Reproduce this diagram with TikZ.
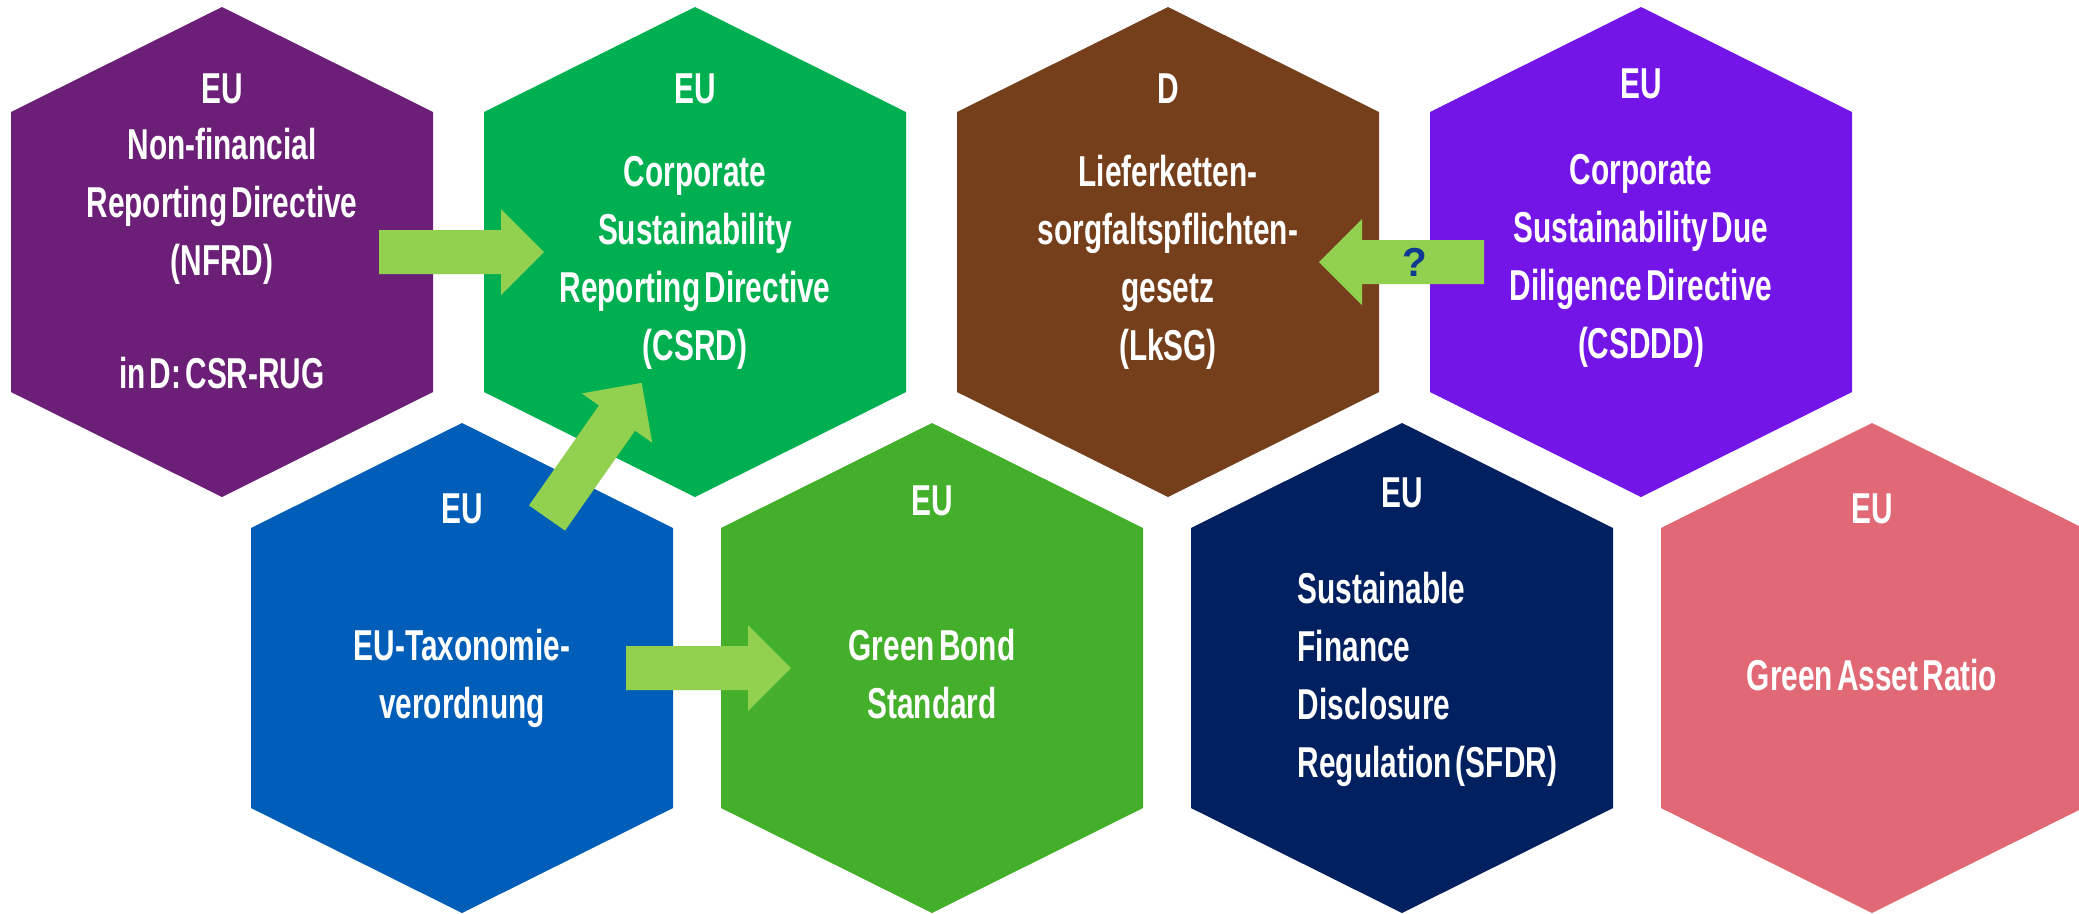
\documentclass[tikz,border=0pt]{standalone}
\usepackage{fontspec}
\setmainfont{Liberation Sans}[FakeStretch=0.69, WordSpace=0.5]
\newfontfamily\qfont{Liberation Sans}
\usepackage{tikz}
\usetikzlibrary{positioning}
\definecolor{npurple}{HTML}{6B1F76}
\definecolor{cgreen}{HTML}{00B050}
\definecolor{lbrown}{HTML}{763F1B}
\definecolor{cviolet}{HTML}{7415E8}
\definecolor{tblue}{HTML}{005EB8}
\definecolor{ggreen}{HTML}{44AF2A}
\definecolor{snavy}{HTML}{002060}
\definecolor{rpink}{HTML}{E16975}
\definecolor{agreen}{HTML}{92D050}
\definecolor{qblue}{HTML}{0E3B91}
\tikzset{
  hexeu/.style={text=white, anchor=base, inner sep=0pt, font=\fontsize{12.3}{16.5}\selectfont\bfseries},
  hexbody/.style={hexeu, align=center},
  greenarrow/.pic={\fill [agreen] (0, -22) -- (122, -22) -- (122, -43) -- (165, 0) -- (122, 43) -- (122, 22) -- (0, 22) -- cycle;}
}
\begin{document}
\begin{tikzpicture}[x=0.1mm, y=-0.1mm]
    \useasboundingbox (0, 0) rectangle (2079, 913);

    \foreach \cx/\cy/\col in {222/252/npurple, 695/252/cgreen, 1168/252/lbrown, 1641/252/cviolet, 462/668/tblue, 932/668/ggreen, 1402/668/snavy, 1872/668/rpink}
      \fill [\col] (\cx, \cy) ++(0, -245) -- ++(211, 105) -- ++(0, 280) -- ++(-211, 105) -- ++(-211, -105) -- ++(0, -280) -- cycle;

    \coordinate (nfrd-out) at (379, 252);
    \coordinate (tax-out) at (626, 668);
    \coordinate (tax-up) at (547, 518);
    \coordinate (csddd-out) at (1484, 262);
    \path (nfrd-out) pic {greenarrow};
    \path (tax-out) pic {greenarrow};
    \path (tax-up) pic [rotate=55] {greenarrow};
    \path (csddd-out) pic [rotate=180] {greenarrow};
    \node [text=qblue, font=\qfont\bfseries\fontsize{11.5}{12}\selectfont] (q) at (1415, 262) {?};

    % last baseline of each text block
    \node [hexeu] (nfrd-eu) at (222, 103) {EU};
    \node [hexbody] (nfrd) at (222, 388) {Non-financial\\Reporting Directive\\(NFRD)\\[15.5pt]in D: CSR-RUG};
    \node [hexeu] (csrd-eu) at (695, 103) {EU};
    \node [hexbody] (csrd) at (695, 360) {Corporate\\Sustainability\\Reporting Directive\\(CSRD)};
    \node [hexeu] (lksg-d) at (1168, 103) {D};
    \node [hexbody] (lksg) at (1168, 360) {Lieferketten-\\sorgfaltspflichten-\\gesetz\\(LkSG)};
    \node [hexeu] (csddd-eu) at (1641, 98) {EU};
    \node [hexbody] (csddd) at (1641, 358) {Corporate\\Sustainability Due\\Diligence Directive\\(CSDDD)};

    \node [hexeu] (tax-eu) at (462, 523) {EU};
    \node [hexbody] (tax) at (462, 718) {EU-Taxonomie-\\verordnung};
    \node [hexeu] (gb-eu) at (932, 515) {EU};
    \node [hexbody] (gb) at (932, 718) {Green Bond\\Standard};
    \node [hexeu] (sfdr-eu) at (1402, 507) {EU};
    \node [hexbody, align=left, anchor=base west] (sfdr) at (1297, 777) {Sustainable\\Finance\\Disclosure\\Regulation (SFDR)};
    \node [hexeu] (gar-eu) at (1872, 523) {EU};
    \node [hexbody] (gar) at (1872, 690) {Green Asset Ratio};
  \end{tikzpicture}
\end{document}
